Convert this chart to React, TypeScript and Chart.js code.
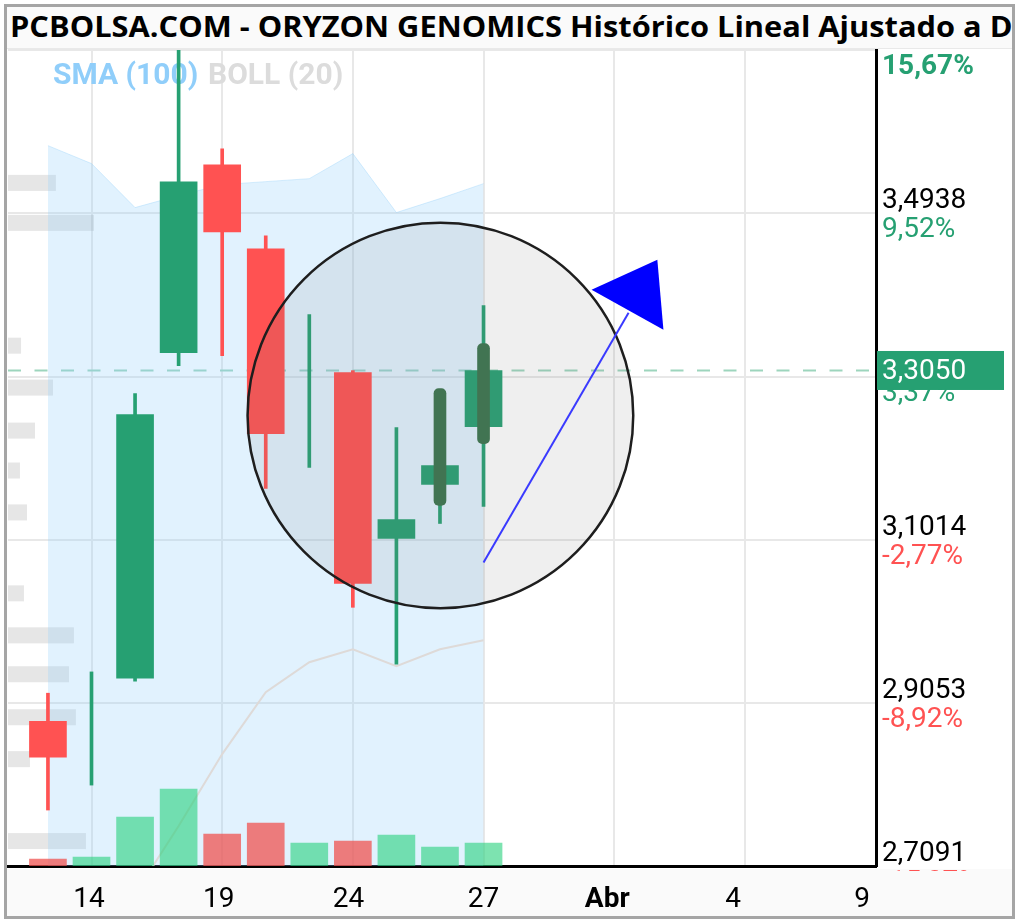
import React, { useEffect, useRef } from 'react';
import { Chart, registerables } from 'chart.js';

Chart.register(...registerables);

// ---------------- data ----------------
const TITLE = 'PCBOLSA.COM - ORYZON GENOMICS Histórico Lineal Ajustado a Dividendos';
const LEGEND_LABELS = ['SMA (100)', 'BOLL (20)'];

// session index on the time axis
const sessionIdx = [0, 1, 2, 3, 4, 5, 6, 7, 8, 9, 10];
const opens = [2.8832, 2.87, 2.9349, 3.3264, 3.5522, 3.4513, 3.28, 3.3024, 3.103, 3.1679, 3.2375];
const highs = [2.9169, 2.9425, 3.2772, 3.7, 3.5714, 3.4669, 3.3721, 3.3048, 3.2363, 3.2808, 3.3829];
const lows = [2.7764, 2.8064, 2.9313, 3.3108, 3.3228, 3.1631, 3.1883, 3.0202, 2.9517, 3.121, 3.1415];
const closes = [2.84, 2.87, 3.252, 3.5318, 3.4717, 3.2291, 3.28, 3.049, 3.1258, 3.1907, 3.305];
const volumes = [14000, 18000, 98000, 154000, 64000, 86000, 46000, 50000, 62000, 38000, 46000];

// indicator series
const smaBand = [3.5754, 3.5538, 3.5009, 3.5153, 3.5285, 3.5321, 3.5357, 3.5658, 3.4949, 3.5117, 3.5297];
const bollLower = [null, null, 2.6755, 2.7572, 2.8437, 2.9182, 2.9542, 2.9698, 2.9494, 2.9698, 2.9806];

// intraday overlay bars
const overlayIdx = [9, 10];
const overlayLow = [3.1427, 3.2171];
const overlayHigh = [3.2832, 3.3372];

// volume by price profile
const vpPrices = [3.5306, 3.4825, 3.3348, 3.2844, 3.2327, 3.1847, 3.1343, 3.037, 2.9865, 2.9397, 2.888, 2.8376, 2.7391];
const vpVolumes = [55200, 99000, 15000, 51800, 31100, 13800, 21900, 18400, 75900, 70200, 78200, 25300, 89800];

// axes
const yTickValues = [2.7091, 2.9053, 3.1014, 3.2976, 3.4938, 3.6899];
const yTickLabels = ['2,7091', '2,9053', '3,1014', '3,2976', '3,4938', '3,6899'];
const yPctLabels = ['-15,07%', '-8,92%', '-2,77%', '3,37%', '9,52%', '15,67%'];
const gridIdx = [1, 4, 7, 10, 13, 16];
const xLabelPos = [0.94, 3.92, 6.9, 10.0, 12.84, 15.73, 18.69];
const xLabels = ['14', '19', '24', '27', 'Abr', '4', '9'];

const lastPrice = 3.305;
const lastPriceLabel = '3,3050';

// drawing annotations (data units)
const circleCenter = [9.01, 3.251];
const circleRadius = [4.427, 0.2318];
const arrowFrom = [10, 3.0742];
const arrowTo = [13.33, 3.3745];
const arrowHead = [[12.48, 3.4021], [13.99, 3.4381], [14.13, 3.354]];

const X_MIN = -0.917;
const X_MAX = 19.01;
const Y_MIN = 2.7091;
const Y_MAX = 3.6904;
const VOL_MAX = 1636000;
const VP_MAX = 1000000;

const GREEN = '#26a072';
const RED = '#ff5252';
const GRID = '#e8e8e8';

export default function App() {
  const ref = useRef<HTMLCanvasElement>(null);

  useEffect(() => {
    const canvas = ref.current;
    if (!canvas) return;
    const up = sessionIdx.map((_, i) => closes[i] >= opens[i]);
    const candleColors = up.map((u) => (u ? GREEN : RED));
    const bodyColors = sessionIdx.map((_, i) =>
      closes[i] === opens[i] ? 'rgba(0,0,0,0)' : candleColors[i]
    );
    const volColors = up.map((u) => (u ? 'rgba(38,208,124,0.6)' : 'rgba(239,83,80,0.75)'));

    const decor = {
      id: 'decor',
      beforeDraw(chart: any) {
        const { ctx, width, height, chartArea } = chart;
        ctx.save();
        ctx.fillStyle = '#ffffff';
        ctx.fillRect(0, 0, width, height);
        ctx.fillStyle = '#fafafa';
        ctx.fillRect(0, chartArea.bottom + 3, width, height);
        ctx.restore();
      },
      beforeDatasetsDraw(chart: any) {
        const { ctx, chartArea: a, scales } = chart;
        const y = scales.y;
        const xv = scales.xVP;
        ctx.save();
        // legend
        ctx.font = 'bold 30px Roboto';
        ctx.textBaseline = 'alphabetic';
        ctx.textAlign = 'left';
        ctx.fillStyle = '#90cefa';
        ctx.fillText(LEGEND_LABELS[0], a.left + 45, a.top + 33.5);
        ctx.fillStyle = '#dcdcdc';
        ctx.fillText(LEGEND_LABELS[1], a.left + 200, a.top + 33.5);
        // volume profile
        ctx.fillStyle = 'rgba(150,150,150,0.24)';
        vpPrices.forEach((p, i) => {
          const py = y.getPixelForValue(p);
          const px = xv.getPixelForValue(vpVolumes[i]);
          ctx.fillRect(a.left, py - 8, px - a.left, 16);
        });
        // last price dashed line
        const lp = y.getPixelForValue(lastPrice);
        ctx.strokeStyle = '#9dd5bd';
        ctx.lineWidth = 2;
        ctx.setLineDash([13, 13.5]);
        ctx.beginPath();
        ctx.moveTo(a.left, lp);
        ctx.lineTo(a.right, lp);
        ctx.stroke();
        ctx.restore();
      },
      afterDatasetsDraw(chart: any) {
        const { ctx, scales } = chart;
        const x = scales.x;
        const y = scales.y;
        ctx.save();
        const cx = x.getPixelForValue(circleCenter[0]);
        const cy = y.getPixelForValue(circleCenter[1]);
        const rx = Math.abs(x.getPixelForValue(circleCenter[0] + circleRadius[0]) - cx);
        const ry = Math.abs(y.getPixelForValue(circleCenter[1] + circleRadius[1]) - cy);
        ctx.beginPath();
        ctx.ellipse(cx, cy, rx, ry, 0, 0, Math.PI * 2);
        ctx.fillStyle = 'rgba(120,120,120,0.12)';
        ctx.fill();
        ctx.lineWidth = 2.5;
        ctx.strokeStyle = '#1e1e1e';
        ctx.stroke();
        // arrow
        ctx.beginPath();
        ctx.moveTo(x.getPixelForValue(arrowFrom[0]), y.getPixelForValue(arrowFrom[1]));
        ctx.lineTo(x.getPixelForValue(arrowTo[0]), y.getPixelForValue(arrowTo[1]));
        ctx.strokeStyle = '#3a3aff';
        ctx.lineWidth = 2;
        ctx.stroke();
        ctx.beginPath();
        arrowHead.forEach((p, i) => {
          const px = x.getPixelForValue(p[0]);
          const py = y.getPixelForValue(p[1]);
          if (i === 0) ctx.moveTo(px, py);
          else ctx.lineTo(px, py);
        });
        ctx.closePath();
        ctx.fillStyle = '#0000ff';
        ctx.fill();
        ctx.restore();
      },
      afterDraw(chart: any) {
        const { ctx, chartArea: a, scales } = chart;
        const y = scales.y;
        ctx.save();
        ctx.beginPath();
        ctx.rect(0, 0, chart.width, a.bottom + 5);
        ctx.clip();
        ctx.textBaseline = 'middle';
        ctx.textAlign = 'left';
        yTickValues.forEach((v, i) => {
          const py = y.getPixelForValue(v);
          const isTop = i === yTickValues.length - 1;
          ctx.font = (isTop ? 'bold ' : '') + '28px Roboto';
          ctx.fillStyle = yPctLabels[i].startsWith('-') ? RED : GREEN;
          ctx.fillText(yPctLabels[i], a.right + 6, py + 17);
        });
        ctx.restore();
        ctx.save();
        const lp = y.getPixelForValue(lastPrice);
        ctx.fillStyle = GREEN;
        ctx.fillRect(a.right + 1, lp - 19.5, 127, 39);
        ctx.fillStyle = '#ffffff';
        ctx.font = '28px Roboto';
        ctx.textBaseline = 'middle';
        ctx.textAlign = 'left';
        ctx.fillText(lastPriceLabel, a.right + 6, lp + 2);
        ctx.restore();
      },
    };

    const zeroPad = (s: any) => {
      s.paddingLeft = 0;
      s.paddingRight = 0;
      s.paddingTop = 0;
      s.paddingBottom = 0;
    };

    const chart = new Chart(canvas, {
      type: 'bar',
      data: {
        datasets: [
          {
            type: 'line',
            label: LEGEND_LABELS[0],
            data: sessionIdx.map((x, i) => ({ x, y: smaBand[i] })),
            fill: 'start',
            backgroundColor: 'rgba(144,206,250,0.27)',
            borderColor: 'rgba(144,206,250,0.35)',
            borderWidth: 1,
            pointRadius: 0,
            tension: 0,
            order: 10,
          },
          {
            type: 'line',
            label: LEGEND_LABELS[1],
            data: sessionIdx.map((x, i) => ({ x, y: bollLower[i] })),
            fill: false,
            borderColor: '#dedad8',
            borderWidth: 2,
            pointRadius: 0,
            tension: 0,
            order: 9,
          },
          {
            type: 'bar',
            label: 'Volumen',
            data: sessionIdx.map((x, i) => ({ x, y: volumes[i] })),
            yAxisID: 'yVol',
            backgroundColor: volColors,
            barThickness: 37,
            grouped: false,
            order: 8,
          },
          {
            type: 'bar',
            label: 'Mecha',
            data: sessionIdx.map((x, i) => ({ x, y: [lows[i], highs[i]] })),
            backgroundColor: candleColors,
            barThickness: 3,
            grouped: false,
            order: 7,
          },
          {
            type: 'bar',
            label: 'Cuerpo',
            data: sessionIdx.map((x, i) => ({ x, y: [opens[i], closes[i]] })),
            backgroundColor: bodyColors,
            barThickness: 37,
            grouped: false,
            order: 6,
          },
          {
            type: 'bar',
            label: 'Intradía',
            data: overlayIdx.map((x, i) => ({ x, y: [overlayLow[i], overlayHigh[i]] })),
            backgroundColor: '#3a734d',
            barThickness: 12,
            borderRadius: 5,
            borderSkipped: false,
            grouped: false,
            order: 5,
          },
        ] as any,
      },
      options: {
        responsive: false,
        animation: false,
        events: [],
        layout: { padding: 0 },
        plugins: {
          legend: { display: false },
          tooltip: { enabled: false },
          title: { display: false },
        },
        scales: {
          x: {
            type: 'linear',
            axis: 'x',
            position: 'bottom',
            weight: 0,
            min: X_MIN,
            max: X_MAX,
            offset: false,
            grid: { color: GRID, lineWidth: 2, drawTicks: false, offset: false },
            border: { display: true, color: '#000', width: 3 },
            ticks: { display: false },
            afterBuildTicks: (s: any) => {
              s.ticks = gridIdx.map((v) => ({ value: v }));
            },
            afterFit: (s: any) => {
              s.height = 0;
              zeroPad(s);
            },
          },
          xLab: {
            type: 'linear',
            axis: 'x',
            position: 'bottom',
            weight: 1,
            min: X_MIN,
            max: X_MAX,
            offset: false,
            grid: { display: false, drawTicks: false, offset: false },
            border: { display: false },
            ticks: {
              autoSkip: false,
              maxRotation: 0,
              minRotation: 0,
              padding: 17,
              color: '#000',
              font: (c: any) => ({ family: 'Roboto', size: 28, weight: c.index === 4 ? 'bold' : 'normal' }),
              callback: (_v: any, i: number) => xLabels[i],
            },
            afterBuildTicks: (s: any) => {
              s.ticks = xLabelPos.map((v) => ({ value: v }));
            },
            afterFit: (s: any) => {
              s.height = 50;
              zeroPad(s);
            },
          },
          xVP: {
            type: 'linear',
            axis: 'x',
            position: 'top',
            display: false,
            offset: false,
            grid: { offset: false },
            min: 0,
            max: VP_MAX,
          },
          y: {
            type: 'linear',
            position: 'right',
            min: Y_MIN,
            max: Y_MAX,
            grid: { color: GRID, lineWidth: 2, drawTicks: false },
            border: { display: true, color: '#000', width: 3 },
            ticks: {
              autoSkip: false,
              padding: 6,
              labelOffset: -12,
              color: '#000',
              font: { family: 'Roboto', size: 28 },
              callback: (_v: any, i: number) => yTickLabels[i],
            },
            afterBuildTicks: (s: any) => {
              s.ticks = yTickValues.map((v) => ({ value: v }));
            },
            afterFit: (s: any) => {
              s.width = 136;
              zeroPad(s);
            },
          },
          yVol: {
            type: 'linear',
            position: 'left',
            display: false,
            min: 0,
            max: VOL_MAX,
          },
        } as any,
      },
      plugins: [decor],
    });

    let alive = true;
    Promise.all([
      document.fonts.load('28px Roboto'),
      document.fonts.load('bold 28px Roboto'),
      document.fonts.load('bold 28px "Open Sans"'),
    ])
      .then(() => {
        if (alive) chart.update();
      })
      .catch(() => {});

    return () => {
      alive = false;
      chart.destroy();
    };
  }, []);

  return (
    <div style={{ position: 'absolute', left: 0, top: 0, width: 1020, height: 924, background: '#fff', overflow: 'hidden' }}>
      <div
        style={{
          position: 'absolute',
          left: 4,
          top: 4,
          width: 1011,
          height: 915,
          border: '3px solid #a5a5a5',
          boxSizing: 'border-box',
        }}
      />
      <div
        style={{
          position: 'absolute',
          left: 7,
          top: 7,
          width: 1005,
          height: 41,
          background: '#fafafa',
          borderBottom: '1px solid #e9e9e9',
          overflow: 'hidden',
        }}
      >
        <div
          style={{
            position: 'absolute',
            left: 3,
            top: 5,
            whiteSpace: 'nowrap',
            font: '700 28px "Open Sans"',
            lineHeight: '28px',
            color: '#000',
            transform: 'scaleX(1.10)',
            transformOrigin: '0 0',
          }}
        >
          {TITLE}
        </div>
      </div>
      <canvas
        ref={ref}
        width={1005}
        height={867}
        style={{ position: 'absolute', left: 7, top: 49, width: 1005, height: 867 }}
      />
    </div>
  );
}
